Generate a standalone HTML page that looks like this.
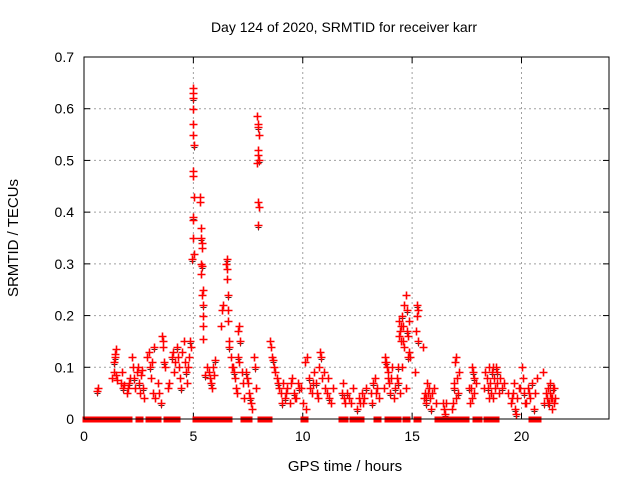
<!DOCTYPE html>
<html><head><meta charset="utf-8"><style>
body{margin:0;background:#fff;}
svg{display:block;font-family:"Liberation Sans",sans-serif;}
</style></head><body>
<svg id="chart" width="640" height="480" viewBox="0 0 640 480" xmlns="http://www.w3.org/2000/svg">
<rect width="640" height="480" fill="#fff"/>
<text x="344" y="32" font-size="14" text-anchor="middle" fill="#000">Day 124 of 2020, SRMTID for receiver karr</text>
<text transform="translate(18,238) rotate(-90)" font-size="15" text-anchor="middle" fill="#000">SRMTID / TECUs</text>
<text x="345" y="471" font-size="15" text-anchor="middle" fill="#000">GPS time / hours</text>
<g id="grid"></g>
<g id="ticks"></g>
<g id="marks"></g>
<rect x="84" y="57" width="525" height="362" fill="none" stroke="#000" stroke-width="1"/>
</svg>
<script>
const xTicks=[0,5,10,15,20];
const yTicks=[0,0.1,0.2,0.3,0.4,0.5,0.6,0.7];
const yTickLabels=["0","0.1","0.2","0.3","0.4","0.5","0.6","0.7"];
const times=[
0.6,0.65,
1.3,1.35,1.4,1.42,1.45,1.5,1.38,1.47,
1.7,1.75,1.8,1.85,1.95,2.0,2.05,2.1,
2.2,2.25,2.3,2.35,2.4,2.45,2.5,2.55,2.6,2.65,2.7,2.75,
2.9,2.95,3.0,3.05,3.1,3.15,3.2,3.25,
3.4,3.45,3.5,3.55,3.6,3.62,3.65,3.7,
3.85,3.9,4.0,4.05,4.1,4.15,
4.25,4.3,4.35,4.4,4.45,4.5,4.55,4.6,4.65,4.7,4.75,4.8,4.85,4.9,
4.97,4.98,5.0,4.99,5.0,4.97,5.01,4.98,4.99,5.02,4.97,4.99,5.0,5.03,4.95,
5.3,5.32,5.35,5.34,5.38,5.4,5.37,5.39,5.36,5.42,5.41,5.44,5.43,5.46,5.45,
5.55,5.6,5.7,5.75,5.8,5.85,5.9,5.95,6.0,
6.25,6.3,6.35,6.52,6.5,6.55,6.53,6.56,6.6,6.58,6.62,6.65,6.7,6.75,
6.8,6.85,6.9,6.95,7.0,7.05,7.1,7.02,7.08,7.15,7.2,7.25,7.3,
7.4,7.45,7.5,7.55,7.6,7.65,7.7,7.75,7.8,7.85,
7.93,7.95,7.97,8.0,7.96,7.94,7.98,7.92,7.95,7.99,7.96,
8.5,8.55,8.6,8.65,8.7,8.75,8.8,8.85,8.9,
9.0,9.1,9.2,9.3,9.4,9.5,9.6,9.7,9.8,9.9,9.05,9.25,9.45,9.65,9.85,
10.0,10.1,10.2,10.3,10.35,10.4,10.5,10.6,10.7,10.75,10.8,10.85,10.9,11.0,11.1,11.2,11.3,11.4,10.15,10.45,10.65,10.95,11.15,
11.8,11.85,11.9,11.95,12.0,12.1,12.2,12.3,
12.5,12.6,12.7,12.8,12.9,12.55,12.75,
13.1,13.2,13.3,13.4,13.5,13.15,13.35,
13.7,13.75,13.8,13.85,13.9,13.95,14.0,14.05,14.1,14.15,14.2,13.78,13.88,
14.3,14.35,14.4,14.45,14.5,14.55,14.6,14.65,14.7,14.75,14.8,14.85,14.9,14.35,14.45,14.55,14.65,14.75,14.85,14.4,14.6,14.8,14.5,14.7,
15.15,15.2,15.25,15.22,15.18,15.27,
15.5,15.55,15.6,15.65,15.7,15.75,15.8,15.85,15.9,16.0,16.1,15.62,15.72,
16.4,16.45,16.5,16.55,
16.8,16.85,16.9,16.95,17.0,17.05,17.1,16.92,17.02,17.12,
17.6,17.65,17.7,17.75,17.8,17.85,17.9,17.72,17.82,
18.3,18.35,18.4,18.45,18.5,18.55,18.6,18.65,18.7,18.75,18.8,18.85,18.9,18.95,19.0,19.1,19.2,18.5,18.7,18.9,
19.4,19.5,19.6,19.7,19.8,19.9,20.0,20.1,20.2,20.3,20.4,20.5,20.6,20.7,19.55,19.75,19.95,20.15,20.35,20.55,19.65,20.05,
21.0,21.05,21.1,21.15,21.2,21.25,21.3,21.35,21.4,21.45,21.5,21.55,21.1,21.3,21.5,21.2,21.4,
0.1,0.2,0.3,0.4,0.5,0.6,0.7,0.8,0.9,1.0,1.1,1.2,1.3,1.6,1.7,1.8,2.0,2.5,2.95,3.25,3.35,3.8,4.1,4.2,5.1,5.2,5.3,5.5,5.8,6.1,6.3,6.6,7.3,7.4,7.5,8.1,8.2,8.3,8.4,10.05,11.8,11.9,12.3,12.4,12.5,12.6,13.4,13.9,14.0,14.3,14.7,15.2,16.2,16.3,16.7,16.8,16.9,17.2,17.4,17.9,18.0,18.4,18.7,18.8,20.5,20.6,20.7
];
const values=[
0.055,0.06,
0.08,0.09,0.12,0.125,0.135,0.075,0.11,0.085,
0.07,0.09,0.06,0.065,0.05,0.06,0.07,0.08,
0.12,0.1,0.08,0.06,0.09,0.1,0.07,0.05,0.085,0.095,0.06,0.04,
0.12,0.13,0.1,0.08,0.11,0.05,0.14,0.04,
0.07,0.05,0.03,0.16,0.15,0.14,0.11,0.1,
0.06,0.07,0.12,0.13,0.09,0.11,
0.14,0.12,0.1,0.08,0.06,0.13,0.15,0.11,0.09,0.07,0.1,0.12,0.15,0.14,
0.63,0.64,0.62,0.6,0.57,0.55,0.53,0.48,0.47,0.43,0.39,0.385,0.35,0.32,0.31,
0.43,0.42,0.37,0.35,0.34,0.33,0.3,0.295,0.28,0.25,0.24,0.22,0.2,0.18,0.155,
0.085,0.1,0.09,0.08,0.07,0.06,0.1,0.085,0.115,
0.18,0.21,0.22,0.31,0.3,0.29,0.27,0.24,0.21,0.19,0.15,0.14,0.12,0.1,
0.1,0.09,0.08,0.06,0.05,0.12,0.11,0.17,0.18,0.15,0.09,0.07,0.04,
0.09,0.08,0.07,0.05,0.04,0.03,0.02,0.12,0.1,0.06,
0.585,0.57,0.565,0.55,0.52,0.51,0.5,0.495,0.42,0.41,0.375,
0.15,0.14,0.12,0.115,0.1,0.09,0.08,0.07,0.06,
0.05,0.07,0.04,0.06,0.03,0.08,0.05,0.04,0.07,0.06,0.03,0.05,0.07,0.04,0.06,
0.03,0.11,0.12,0.08,0.06,0.05,0.09,0.07,0.04,0.1,0.13,0.12,0.08,0.06,0.05,0.04,0.03,0.06,0.02,0.07,0.05,0.09,0.08,
0.05,0.07,0.04,0.03,0.05,0.04,0.03,0.06,
0.02,0.03,0.05,0.04,0.06,0.04,0.03,
0.05,0.07,0.08,0.06,0.04,0.03,0.05,
0.06,0.12,0.11,0.1,0.09,0.07,0.05,0.08,0.1,0.04,0.06,0.11,0.08,
0.08,0.1,0.19,0.17,0.15,0.2,0.18,0.22,0.24,0.21,0.16,0.13,0.12,0.07,0.05,0.1,0.14,0.17,0.19,0.16,0.15,0.12,0.18,0.06,0.09,
0.22,0.21,0.2,0.17,0.15,0.14,
0.04,0.05,0.03,0.07,0.06,0.04,0.02,0.05,0.06,0.03,0.04,0.05,0.03,
0.02,0.01,0.03,0.02,
0.03,0.06,0.11,0.12,0.08,0.05,0.07,0.04,0.09,0.06,
0.03,0.06,0.1,0.09,0.05,0.07,0.04,0.08,0.06,
0.09,0.08,0.06,0.1,0.07,0.05,0.09,0.04,0.08,0.06,0.1,0.07,0.05,0.08,0.06,0.07,0.04,0.1,0.09,0.05,
0.03,0.05,0.02,0.04,0.06,0.1,0.05,0.03,0.06,0.04,0.07,0.05,0.08,0.04,0.01,0.06,0.03,0.05,0.02,0.07,0.08,0.09,
0.03,0.05,0.04,0.06,0.03,0.05,0.04,0.02,0.06,0.03,0.04,0.05,0.07,0.06,0.03,0.04,
0,0,0,0,0,0,0,0,0,0,0,0,0,0,0,0,0,0,0,0,0,0,0,0,0,0,0,0,0,0,0,0,0,0,0,0,0,0,0,0,0,0,0,0,0,0,0,0,0,0,0,0,0,0,0,0,0,0,0,0,0,0,0,0,0,0,0,0
];
const X0=84,X1=609,Y0=419,Y1=57,XMAX=24,YMAX=0.7;
function xs(t){return X0+(X1-X0)*t/XMAX;}
function ys(v){return Y0-(Y0-Y1)*v/YMAX;}
const NS="http://www.w3.org/2000/svg";
const grid=document.getElementById('grid'),ticks=document.getElementById('ticks'),marks=document.getElementById('marks');
function mk(tag,attrs,parent){const e=document.createElementNS(NS,tag);for(const k in attrs)e.setAttribute(k,attrs[k]);parent.appendChild(e);return e;}
xTicks.forEach(t=>{
  const x=xs(t);
  if(t>0){const g=mk('line',{x1:x,y1:Y1,x2:x,y2:Y0,stroke:'#a0a0a0','stroke-dasharray':'2,3'},grid);
  
  }
  mk('line',{x1:x,y1:Y0,x2:x,y2:Y0-6,stroke:'#000'},ticks);
  mk('line',{x1:x,y1:Y1,x2:x,y2:Y1+6,stroke:'#000'},ticks);
  const l=mk('text',{x:x,y:Y0+22,'font-size':'14','text-anchor':'middle'},ticks);
  l.textContent=t;
  
  
});
yTicks.forEach((v,i)=>{
  const y=ys(v);
  if(i>0&&i<yTicks.length-1){const g=mk('line',{x1:X0,y1:y,x2:X1,y2:y,stroke:'#a0a0a0','stroke-dasharray':'2,3'},grid);
  
  }
  mk('line',{x1:X0,y1:y,x2:X0+6,y2:y,stroke:'#000'},ticks);
  mk('line',{x1:X1,y1:y,x2:X1-6,y2:y,stroke:'#000'},ticks);
  const l=mk('text',{x:X0-10,y:y+5,'font-size':'14','text-anchor':'end'},ticks);
  l.textContent=yTickLabels[i];
  
  
});
let d='',db='',dz='';
const n=Math.min(times.length,values.length);
for(let i=0;i<n;i++){
  const t=times[i];
  const x=Math.round(xs(t))+0.5,y=Math.round(ys(values[i]))+0.5;
  if(values[i]===0){dz+=`M${x-4} ${y-3}h8v6h-8z`;continue;}
  d+=`M${x-4} ${y}h8M${x} ${y-4}v8`;
  if(i%4===0) db+=`M${x-3} ${y+2}h6M${x} ${y-1}v6`;
}
const pb=mk('path',{d:db,stroke:'#333','stroke-width':'1',fill:'none'},marks);


const pr=mk('path',{d:d,stroke:'#ff0000','stroke-width':'1.6',fill:'none'},marks);


const pz=mk('path',{d:dz,fill:'#ff0000',stroke:'none'},marks);


</script>
</body></html>
